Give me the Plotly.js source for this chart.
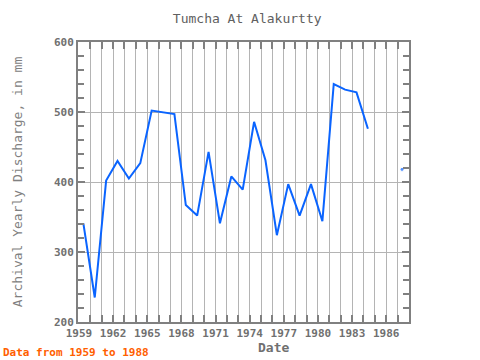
<!DOCTYPE html>
<html>
<head>
<meta charset="utf-8">
<script src="https://cdn.plot.ly/plotly-3.0.1.min.js"></script>
<style>html,body{margin:0;padding:0;background:#fff;}#chart{width:480px;height:360px;}</style>
</head>
<body>
<div id="chart"></div>
<script>
// Data (null = missing year)
const years = [1959,1960,1961,1962,1963,1964,1965,1966,1967,1968,1969,1970,1971,1972,1973,1974,1975,1976,1977,1978,1979,1980,1981,1982,1983,1984,1985,1986,1987];
const discharge = [341,235,402,430,405,427,502,500,497,367,352,443,341,408,389,486,431,324,397,352,397,344,540,532,528,476,null,null,418];
const tickYears = [1959,1960,1961,1962,1963,1964,1965,1966,1967,1968,1969,1970,1971,1972,1973,1974,1975,1976,1977,1978,1979,1980,1981,1982,1983,1984,1985,1986,1987,1988];
const labelYears = [1959,1962,1965,1968,1971,1974,1977,1980,1983,1986];

const xDates = years.map(y => y + '-05-22');
const tickvals = tickYears.map(y => y + '-01-01');
const ticktext = tickYears.map(y => labelYears.includes(y) ? String(y) : '');
// isolated points (no neighbours) get a visible dot, others none
const markerSizes = discharge.map((v, i) => {
  if (v === null) return 0;
  const prev = i > 0 ? discharge[i - 1] : null;
  const next = i < discharge.length - 1 ? discharge[i + 1] : null;
  return (prev === null && next === null) ? 4 : 0;
});

const mono = 'DejaVu Sans Mono, monospace';
const axisGray = '#808080';
const gridGray = '#b4b4b4';

const trace = {
  x: xDates,
  y: discharge,
  type: 'scatter',
  mode: 'lines+markers',
  connectgaps: false,
  line: {color: '#0a64ff', width: 2},
  marker: {color: '#0a64ff', size: markerSizes},
  hoverinfo: 'skip'
};

const layout = {
  width: 480, height: 360,
  margin: {l: 78, r: 71, t: 42, b: 38, pad: 0},
  paper_bgcolor: '#ffffff',
  plot_bgcolor: '#ffffff',
  showlegend: false,
  title: {
    text: 'Tumcha At Alakurtty',
    font: {family: mono, size: 13, color: '#606060'},
    x: 0.515, xref: 'container', xanchor: 'center',
    y: 0.95, yref: 'container', yanchor: 'middle'
  },
  xaxis: {
    type: 'date',
    range: ['1958-12-01', '1988-01-01'],
    tickmode: 'array',
    tickvals: tickvals,
    ticktext: ticktext,
    ticks: 'inside', ticklen: 7, tickwidth: 2, tickcolor: axisGray,
    showgrid: true, gridcolor: gridGray, gridwidth: 1,
    showline: true, linecolor: axisGray, linewidth: 2, mirror: 'ticks',
    zeroline: false,
    tickfont: {family: mono, size: 11, color: '#707070', weight: 'bold'},
    tickangle: 0
  },
  yaxis: {
    range: [200, 600],
    tickmode: 'linear', tick0: 200, dtick: 100,
    ticks: 'inside', ticklen: 7, tickwidth: 2, tickcolor: axisGray,
    minor: {dtick: 20, ticks: 'inside', ticklen: 6, tickwidth: 1.5, tickcolor: axisGray, showgrid: false},
    showgrid: true, gridcolor: gridGray, gridwidth: 1,
    showline: true, linecolor: axisGray, linewidth: 2, mirror: 'ticks',
    zeroline: false,
    tickfont: {family: mono, size: 11, color: '#707070', weight: 'bold'},
    title: {
      text: 'Archival Yearly Discharge, in mm',
      font: {family: mono, size: 13, color: '#808080'},
      standoff: 28
    }
  },
  annotations: [
    {
      text: '<b>Date</b>', xref: 'paper', yref: 'paper',
      x: 0.59, y: -0.09, xanchor: 'center', yanchor: 'middle',
      showarrow: false, font: {family: mono, size: 13, color: '#707070'}
    },
    {
      text: '<b>Data from 1959 to 1988</b>', xref: 'paper', yref: 'paper',
      x: -0.232, y: -0.108, xanchor: 'left', yanchor: 'middle',
      showarrow: false, font: {family: mono, size: 11, color: '#ff6000'}
    }
  ]
};

Plotly.newPlot('chart', [trace], layout, {staticPlot: true, displayModeBar: false});
</script>
</body>
</html>
